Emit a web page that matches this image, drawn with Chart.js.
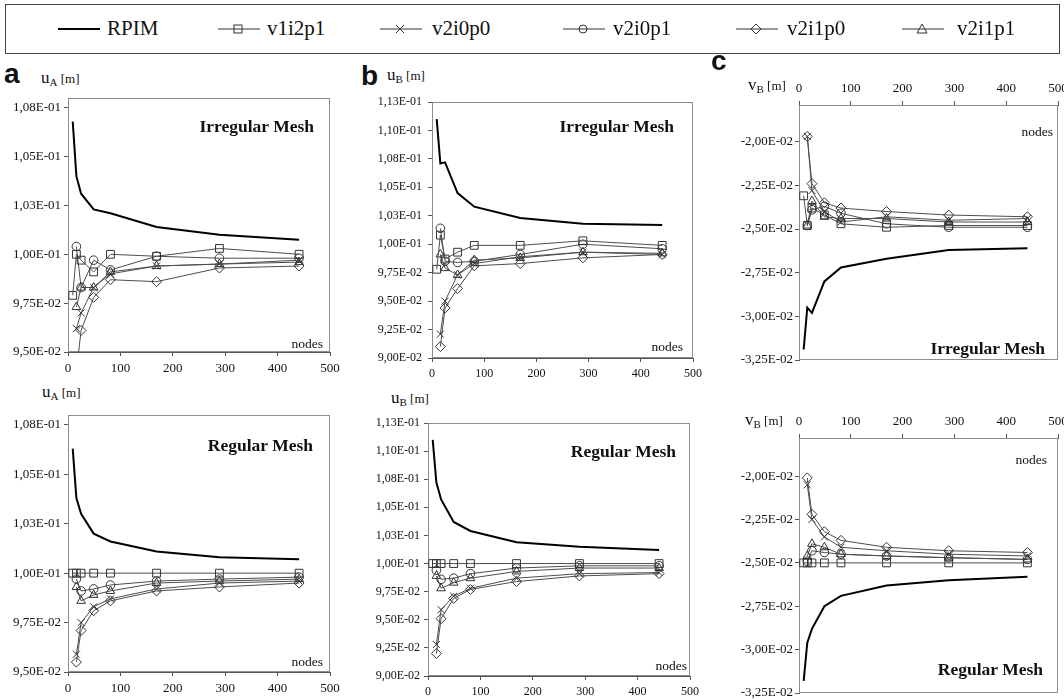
<!DOCTYPE html>
<html>
<head>
<meta charset="utf-8">
<script src="https://cdn.jsdelivr.net/npm/chart.js@4.4.0/dist/chart.umd.min.js"></script>
<style>
  body { margin: 0; width: 1064px; height: 699px; background: #fff; position: relative; overflow: hidden;
         font-family: "Liberation Serif", "Times New Roman", serif; color: #111; }
  .t { position: absolute; line-height: 1; white-space: nowrap; }
  .letter { font-family: "Liberation Sans", Arial, sans-serif; font-weight: bold; }
  #legend { position: absolute; left: 5px; top: 4px; width: 1055px; height: 50px; border: 1.5px solid #444; box-sizing: border-box; }
</style>
</head>
<body>
<div id="legend"></div>
<script>
// nodes (x values) shared by every panel
const nodes = [9, 16, 25, 49, 81, 169, 289, 441];
const seriesNames = ['RPIM', 'v1i2p1', 'v2i0p0', 'v2i0p1', 'v2i1p0', 'v2i1p1'];

// y tick values / labels
const uA_tickValues = [0.095, 0.0975, 0.1, 0.1025, 0.105, 0.1075];
const uA_tickLabels = ['9,50E-02', '9,75E-02', '1,00E-01', '1,03E-01', '1,05E-01', '1,08E-01'];
const uB_tickValues = [0.09, 0.0925, 0.095, 0.0975, 0.1, 0.1025, 0.105, 0.1075, 0.11, 0.1125];
const uB_tickLabels = ['9,00E-02', '9,25E-02', '9,50E-02', '9,75E-02', '1,00E-01', '1,03E-01', '1,05E-01', '1,08E-01', '1,10E-01', '1,13E-01'];
const vB_tickValues = [-0.0325, -0.03, -0.0275, -0.025, -0.0225, -0.02];
const vB_tickLabels = ['-3,25E-02', '-3,00E-02', '-2,75E-02', '-2,50E-02', '-2,25E-02', '-2,00E-02'];
const xTickValues = [0, 100, 200, 300, 400, 500];

// series order: RPIM, v1i2p1, v2i0p0, v2i0p1, v2i1p0, v2i1p1
const uA_irregular = [
  [0.1068, 0.1040, 0.1031, 0.1023, 0.1021, 0.1014, 0.1010, 0.10075],
  [0.0979, 0.1000, 0.0997, 0.0991, 0.1000, 0.0999, 0.1003, 0.1000],
  [null, 0.0962, 0.0970, 0.0983, 0.0990, 0.0994, 0.0995, 0.0997],
  [null, 0.1004, 0.0983, 0.0997, 0.0992, 0.0999, 0.0998, 0.0998],
  [null, 0.0940, 0.0961, 0.0978, 0.0987, 0.0986, 0.0993, 0.0994],
  [null, 0.0973, 0.0983, 0.0983, 0.0991, 0.0994, 0.0995, 0.0996]
];
const uA_regular = [
  [0.1063, 0.1038, 0.1030, 0.1020, 0.1016, 0.1011, 0.1008, 0.1007],
  [0.1000, 0.1000, 0.1000, 0.1000, 0.1000, 0.1000, 0.1000, 0.1000],
  [null, 0.0959, 0.0975, 0.0983, 0.0987, 0.0992, 0.0995, 0.0996],
  [null, 0.0997, 0.0991, 0.0992, 0.0994, 0.0996, 0.0997, 0.0998],
  [null, 0.0955, 0.0971, 0.0981, 0.0986, 0.0991, 0.0993, 0.0995],
  [null, 0.0993, 0.0986, 0.0989, 0.0991, 0.0995, 0.0996, 0.0997]
];
const uB_irregular = [
  [0.1110, 0.1071, 0.1072, 0.1045, 0.1033, 0.1023, 0.1018, 0.1017],
  [0.0978, 0.1008, 0.0987, 0.0993, 0.0999, 0.0999, 0.1003, 0.0999],
  [null, 0.0921, 0.0950, 0.0973, 0.0983, 0.0989, 0.0993, 0.0991],
  [null, 0.1014, 0.0985, 0.0984, 0.0985, 0.0991, 0.1000, 0.0996],
  [null, 0.0910, 0.0944, 0.0961, 0.0981, 0.0983, 0.0988, 0.0991],
  [null, 0.0991, 0.0979, 0.0973, 0.0986, 0.0988, 0.0993, 0.0992]
];
const uB_regular = [
  [0.1110, 0.1072, 0.1057, 0.1037, 0.1029, 0.1019, 0.1015, 0.1012],
  [0.1000, 0.1000, 0.1000, 0.1000, 0.1000, 0.1000, 0.1000, 0.1000],
  [null, 0.0928, 0.0959, 0.0971, 0.0978, 0.0987, 0.0991, 0.0992],
  [null, 0.0994, 0.0986, 0.0987, 0.0991, 0.0996, 0.0998, 0.0998],
  [null, 0.0920, 0.0951, 0.0969, 0.0977, 0.0984, 0.0989, 0.0991],
  [null, 0.0989, 0.0978, 0.0983, 0.0987, 0.0993, 0.0996, 0.0996]
];
const vB_irregular = [
  [-0.0319, -0.0295, -0.0298, -0.0280, -0.0272, -0.0267, -0.0262, -0.0261],
  [-0.0231, -0.0248, -0.0238, -0.0242, -0.0247, -0.0249, -0.0248, -0.0248],
  [null, -0.0197, -0.0228, -0.0240, -0.0246, -0.0243, -0.0245, -0.0244],
  [null, -0.0248, -0.0239, -0.0237, -0.0241, -0.0247, -0.0249, -0.0249],
  [null, -0.0197, -0.0224, -0.0235, -0.0238, -0.0240, -0.0242, -0.0243],
  [null, -0.0248, -0.0234, -0.0243, -0.0244, -0.0244, -0.0246, -0.0246]
];
const vB_regular = [
  [-0.0318, -0.0296, -0.0288, -0.0275, -0.0269, -0.0263, -0.0260, -0.0258],
  [-0.0250, -0.0250, -0.0250, -0.0250, -0.0250, -0.0250, -0.0250, -0.0250],
  [null, -0.0205, -0.0225, -0.0235, -0.0241, -0.0243, -0.0245, -0.0246],
  [null, -0.0249, -0.0243, -0.0244, -0.0245, -0.0246, -0.0247, -0.0248],
  [null, -0.0201, -0.0222, -0.0232, -0.0237, -0.0241, -0.0243, -0.0244],
  [null, -0.0246, -0.0239, -0.0241, -0.0245, -0.0246, -0.0247, -0.0248]
];

// marker look per series
const pointStyles = [false, 'rect', 'crossRot', 'circle', 'rectRot', 'triangle'];
const pointRadii = [0, 5.5, 5, 4.3, 5, 5];

const axisColor = '#555';

const framePlugin = {
  id: 'frame',
  beforeDatasetsDraw(chart) {
    const { ctx, chartArea: a } = chart;
    ctx.save();
    ctx.strokeStyle = '#8c8c8c';
    ctx.lineWidth = 1;
    ctx.strokeRect(Math.round(a.left) + 0.5, Math.round(a.top) + 0.5, Math.round(a.width) - 1, Math.round(a.height) - 1);
    ctx.restore();
  }
};

function makePanel(p) {
  const [L, T, R, B] = p.plot;
  const xH = 30, padR = 14;
  const padTop = p.xTop ? 0 : 8;
  const padBottom = p.xTop ? 8 : 0;
  const left = L - p.yW;
  const top = p.xTop ? T - xH : T - padTop;
  const width = p.yW + (R - L) + padR;
  const height = (B - T) + xH + padTop + padBottom;
  const font = { family: 'Liberation Serif', size: p.fontSize };

  const canvas = document.createElement('canvas');
  canvas.width = width;
  canvas.height = height;
  canvas.style.cssText = `position:absolute;left:${left}px;top:${top}px;width:${width}px;height:${height}px`;
  document.body.appendChild(canvas);

  const datasets = p.data.map((vals, i) => ({
    label: seriesNames[i],
    data: nodes.map((n, k) => ({ x: n, y: vals[k] })).filter(pt => pt.y !== null),
    borderColor: i === 0 ? '#000' : '#4d4d4d',
    borderWidth: i === 0 ? 2 : 1,
    pointStyle: pointStyles[i],
    pointRadius: pointRadii[i],
    pointBorderColor: '#333',
    pointBorderWidth: 1,
    pointBackgroundColor: 'rgba(0,0,0,0)',
    tension: 0,
    fill: false
  }));

  new Chart(canvas, {
    type: 'line',
    data: { datasets },
    options: {
      responsive: false,
      animation: false,
      layout: { padding: { left: 0, top: padTop, right: padR, bottom: padBottom } },
      plugins: { legend: { display: false }, tooltip: { enabled: false } },
      scales: {
        x: {
          type: 'linear', position: p.xTop ? 'top' : 'bottom', min: 0, max: 500,
          afterBuildTicks: s => { s.ticks = xTickValues.map(v => ({ value: v })); },
          ticks: { padding: 5, font, color: '#111', maxRotation: 0, autoSkip: false },
          grid: { drawOnChartArea: false, tickLength: 4, color: axisColor },
          border: { color: axisColor },
          afterFit: s => { s.height = xH; s.paddingLeft = 0; s.paddingRight = 0; }
        },
        y: {
          type: 'linear', min: p.yMin, max: p.yMax,
          afterBuildTicks: s => { s.ticks = p.tickValues.map(v => ({ value: v })); },
          ticks: { callback: (v, i) => p.tickLabels[i], padding: p.yPad, font, color: '#111', autoSkip: false },
          grid: { drawOnChartArea: false, tickLength: 4, color: axisColor },
          border: { color: axisColor },
          afterFit: s => { s.width = p.yW; s.paddingTop = 0; s.paddingBottom = 0; }
        }
      }
    },
    plugins: [framePlugin]
  });
}

const panels = [
  { data: uA_irregular, yMin: 0.095, yMax: 0.108, tickValues: uA_tickValues, tickLabels: uA_tickLabels, plot: [68, 98, 330, 352], yW: 66, yPad: 3, fontSize: 13, xTop: false },
  { data: uA_regular, yMin: 0.095, yMax: 0.108, tickValues: uA_tickValues, tickLabels: uA_tickLabels, plot: [68, 415, 330, 672], yW: 66, yPad: 3, fontSize: 13, xTop: false },
  { data: uB_irregular, yMin: 0.09, yMax: 0.1125, tickValues: uB_tickValues, tickLabels: uB_tickLabels, plot: [432, 102, 693, 358], yW: 68, yPad: 6, fontSize: 12, xTop: false },
  { data: uB_regular, yMin: 0.09, yMax: 0.1125, tickValues: uB_tickValues, tickLabels: uB_tickLabels, plot: [428, 423, 690, 676], yW: 66, yPad: 4, fontSize: 12, xTop: false },
  { data: vB_irregular, yMin: -0.0325, yMax: -0.0179, tickValues: vB_tickValues, tickLabels: vB_tickLabels, plot: [799, 105, 1058, 360], yW: 76, yPad: 2, fontSize: 13, xTop: true },
  { data: vB_regular, yMin: -0.0325, yMax: -0.0178, tickValues: vB_tickValues, tickLabels: vB_tickLabels, plot: [799, 438, 1058, 693], yW: 76, yPad: 2, fontSize: 13, xTop: true }
];
panels.forEach(makePanel);

// text overlays
function txt(html, x, baseline, size, cls, alignRight) {
  const d = document.createElement('div');
  d.className = 't ' + (cls || '');
  d.style.fontSize = size + 'px';
  d.style.top = (baseline - 0.84 * size) + 'px';
  if (alignRight) d.style.right = (1064 - x) + 'px'; else d.style.left = x + 'px';
  d.innerHTML = html;
  document.body.appendChild(d);
}
function axisTitle(sym, sub) {
  return `<span style="font-size:17px">${sym}</span><span style="font-size:11px;position:relative;top:3px">${sub}</span><span style="font-size:13px"> [m]</span>`;
}

txt('a', 4, 84, 28, 'letter');
txt('b', 361, 86, 28, 'letter');
txt('c', 711, 71, 28, 'letter');

txt(axisTitle('u', 'A'), 41, 83, 17);
txt(axisTitle('u', 'A'), 42, 397, 17);
txt(axisTitle('u', 'B'), 387, 80, 17);
txt(axisTitle('u', 'B'), 391, 403, 17);
txt(axisTitle('v', 'B'), 748, 90, 17);
txt(axisTitle('v', 'B'), 745, 425, 17);

txt(`<b>Irregular Mesh</b>`, 314, 133, 17.5, '', true);
txt(`<b>Regular Mesh</b>`, 313, 452, 17.5, '', true);
txt(`<b>Irregular Mesh</b>`, 674, 133, 17.5, '', true);
txt(`<b>Regular Mesh</b>`, 676, 458, 17.5, '', true);
txt(`<b>Irregular Mesh</b>`, 1045, 355, 17.5, '', true);
txt(`<b>Regular Mesh</b>`, 1043, 676, 17.5, '', true);

txt('nodes', 323, 348, 13.5, '', true);
txt('nodes', 323, 666, 13.5, '', true);
txt('nodes', 683, 351, 13.5, '', true);
txt('nodes', 687, 670, 13.5, '', true);
txt('nodes', 1053, 136, 13.5, '', true);
txt('nodes', 1047, 464, 13.5, '', true);

// legend
const legendLineX = [58, 218, 380, 563, 736, 902];
const legendTextX = [107, 267, 432, 613, 787, 957];
function markerSvg(style) {
  const s = 'fill="none" stroke="#333" stroke-width="1"';
  switch (style) {
    case 'rect': return `<rect x="16" y="3" width="8" height="8" ${s}/>`;
    case 'crossRot': return `<path d="M16 3 L24 11 M16 11 L24 3" ${s}/>`;
    case 'circle': return `<circle cx="20" cy="7" r="4" ${s}/>`;
    case 'rectRot': return `<polygon points="20,2 25,7 20,12 15,7" ${s}/>`;
    case 'triangle': return `<polygon points="20,2 25,11 15,11" ${s}/>`;
    default: return '';
  }
}
seriesNames.forEach((name, i) => {
  const svg = document.createElement('div');
  svg.style.cssText = `position:absolute;left:${legendLineX[i]}px;top:22px;width:42px;height:14px`;
  const w = i === 0 ? 2 : 1;
  svg.innerHTML = `<svg width="42" height="14"><line x1="0" y1="7" x2="42" y2="7" stroke="${i === 0 ? '#000' : '#333'}" stroke-width="${w}"/>${markerSvg(pointStyles[i])}</svg>`;
  document.body.appendChild(svg);
  txt(name, legendTextX[i], 36, 21);
});
</script>
</body>
</html>
